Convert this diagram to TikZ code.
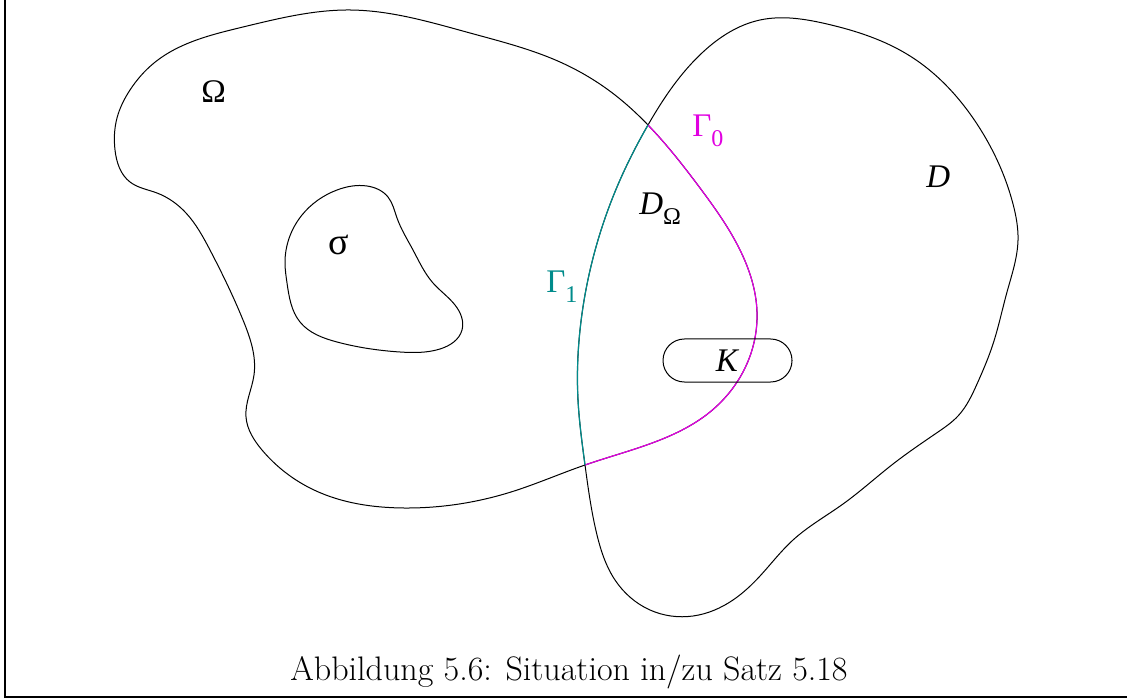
\documentclass[tikz,border=0pt]{standalone}
\usepackage{fontspec}
\usepackage{xcolor}
\usetikzlibrary{positioning, hobby}
\newfontfamily\figfont{Liberation Serif}
\definecolor{randnull}{RGB}{225,0,225}
\definecolor{randeins}{RGB}{0,139,139}
\newcommand{\figlabel}{\figfont\fontsize{16.5}{19}\selectfont}
\newcommand{\idx}[1]{\raisebox{-0.3em}{\fontsize{12}{12}\selectfont #1}}
% Raender der Gebiete (Pixelkoordinaten)
\newcommand{\OmegaRand}{(154,63) .. (243,27) .. (350,10) .. (470,33) .. (560,62)
  .. (615,95) .. (648,125) .. (700,188) .. (740,250) .. (757,312) .. (745,368)
  .. (710,412) .. (660,440) .. (585,465) .. (511,492) .. (404,508) .. (314,490)
  .. (262,450) .. (246,417) .. (254,375) .. (243,320) .. (210,250) .. (186,213)
  .. (157,193) .. (130,182) .. (115,150) .. (117,118) .. (130,90)}
\newcommand{\DRand}{(648,125) .. (703,52) .. (760,20) .. (827,24) .. (910,56)
  .. (977,124) .. (1013,204) .. (1018,240) .. (1007,292) .. (993,344) .. (977,384)
  .. (958,416) .. (938,432) .. (893,464) .. (843,504) .. (793,540) .. (760,576)
  .. (733,600) .. (693,616) .. (650,610) .. (615,580) .. (597,535) .. (585,465)
  .. (578,400) .. (580,330) .. (598,240) .. (620,180)}
\newcommand{\SigmaRand}{(285,263) .. (302,215) .. (337,190) .. (367,186) .. (388,197)
  .. (397,218) .. (413,250) .. (433,283) .. (455,305) .. (462,330) .. (440,349)
  .. (400,352) .. (337,342) .. (300,322) .. (287,283)}

\begin{document}
\begin{tikzpicture}[
    x=0.5pt, y=-0.5pt,
    rand/.style={line width=0.5pt, black},
    gnull/.style={line width=0.6pt, randnull},
    geins/.style={line width=0.6pt, randeins},
    lbl/.style={font=\figlabel, inner sep=0pt, anchor=base west},
    kbox/.style={draw, line width=0.5pt, rounded corners=10.7pt, minimum width=64.5pt, minimum height=21.5pt, inner sep=0pt, font=\figlabel}
]
\useasboundingbox (0,0) rectangle (1127,699);
\draw[line width=1.2pt] (5,-10) -- (5,697) -- (1140,697);

\draw[rand, use Hobby shortcut, closed=true] \OmegaRand;
\draw[rand, use Hobby shortcut, closed=true] \DRand;
\draw[rand, use Hobby shortcut, closed=true] \SigmaRand;

% Gamma_0: Teil von dOmega in D, Gamma_1: Teil von dD in Omega
\begin{scope}
  \clip[use Hobby shortcut, closed=true] \DRand;
  \draw[gnull, use Hobby shortcut, closed=true] \OmegaRand;
\end{scope}
\begin{scope}
  \clip[use Hobby shortcut, closed=true] \OmegaRand;
  \draw[geins, use Hobby shortcut, closed=true] \DRand;
\end{scope}

\node[kbox] (K) at (727.5,360.5) {\textit{K}};

\node[lbl] (om) at (201,103) {Ω};
\node[lbl, font=\figfont\fontsize{19}{19}\selectfont] (sig) at (328,255) {σ};
\node[lbl] (D) at (926,188) {\textit{D}};
\node[lbl] (DOm) at (639,215) {\textit{D}\idx{Ω}};
\node[lbl, text=randnull] (g0) at (692,137) {Γ\idx{0}};
\node[lbl, text=randeins] (g1) at (546,293) {Γ\idx{1}};

\node[anchor=base, font=\fontsize{17}{20}\selectfont, inner sep=0pt] (cap) at (569,680) {Abbildung 5.6: Situation in/zu Satz 5.18};
\end{tikzpicture}
\end{document}
